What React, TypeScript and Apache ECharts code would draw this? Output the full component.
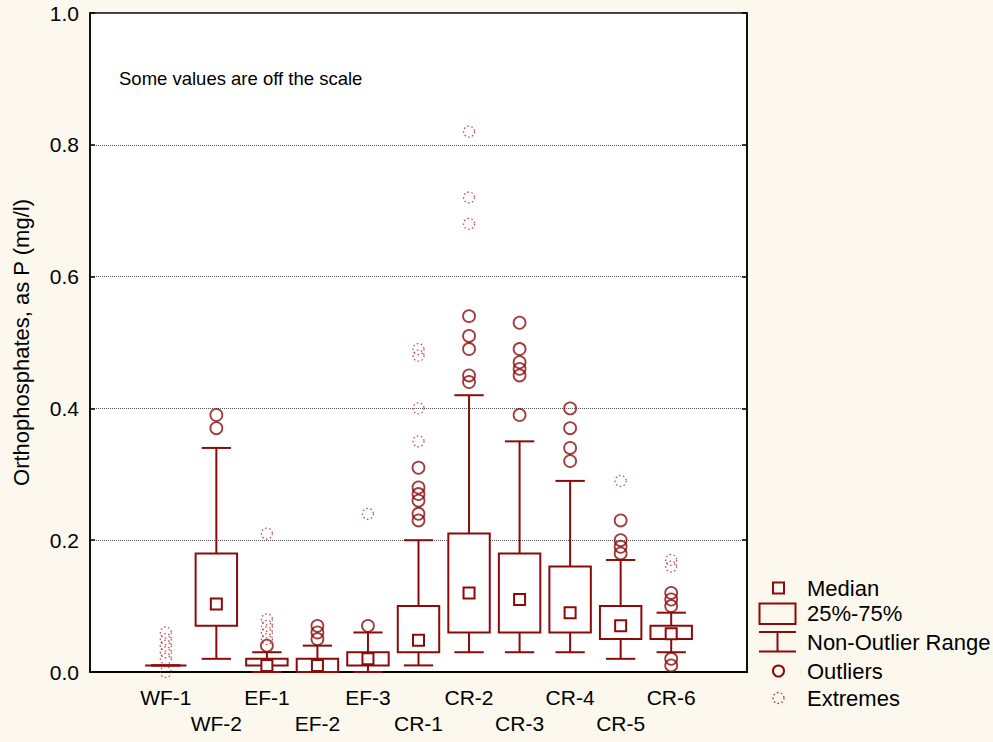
import React, { useEffect, useRef } from "react";
import * as echarts from "echarts";

const categories = ["WF-1", "WF-2", "EF-1", "EF-2", "EF-3", "CR-1", "CR-2", "CR-3", "CR-4", "CR-5", "CR-6"];
const whiskerLow = [0.01, 0.02, 0.0, 0.0, 0.0, 0.01, 0.03, 0.03, 0.03, 0.02, 0.03];
const q1Values = [0.01, 0.07, 0.01, 0.0, 0.01, 0.03, 0.06, 0.06, 0.06, 0.05, 0.05];
const medianValues = [0.01, 0.103, 0.01, 0.01, 0.02, 0.048, 0.12, 0.11, 0.09, 0.07, 0.058];
const q3Values = [0.01, 0.18, 0.02, 0.02, 0.03, 0.10, 0.21, 0.18, 0.16, 0.10, 0.07];
const whiskerHigh = [0.01, 0.34, 0.03, 0.04, 0.06, 0.20, 0.42, 0.35, 0.29, 0.17, 0.09];
const outlierValues = [
  [],
  [0.39, 0.37],
  [0.04],
  [0.07, 0.06, 0.05],
  [0.07],
  [0.31, 0.28, 0.27, 0.26, 0.24, 0.23],
  [0.54, 0.51, 0.49, 0.45, 0.44],
  [0.53, 0.49, 0.47, 0.46, 0.45, 0.39],
  [0.40, 0.37, 0.34, 0.32],
  [0.23, 0.20, 0.19, 0.18],
  [0.12, 0.11, 0.10, 0.02, 0.01],
];
const extremeValues = [
  [0.06, 0.05, 0.04, 0.03, 0.02, 0.0],
  [],
  [0.21, 0.08, 0.07, 0.06, 0.05],
  [],
  [0.24],
  [0.49, 0.48, 0.40, 0.35],
  [0.82, 0.72, 0.68],
  [],
  [],
  [0.29],
  [0.17, 0.16],
];
const yTicks = [0, 0.2, 0.4, 0.6, 0.8, 1.0];
const legendLabels = ["Median", "25%-75%", "Non-Outlier Range", "Outliers", "Extremes"];
const noteText = "Some values are off the scale";
const yTitle = "Orthophosphates, as P (mg/l)";

const RED = "#8B0A0A";
const EXT = "#a82424";
const FONT = "'Liberation Sans', Arial, Helvetica, sans-serif";
const BG = "#fdf8ed";

export default function App() {
  const ref = useRef<HTMLDivElement>(null);
  useEffect(() => {
    if (!ref.current) return;
    const chart = echarts.init(ref.current, null, { renderer: "svg" });
    const axisCats = ["", ...categories, ""];
    const boxData = categories.map((_, i) => [
      i + 1,
      whiskerLow[i],
      q1Values[i],
      medianValues[i],
      q3Values[i],
      whiskerHigh[i],
    ]);
    const outData: number[][] = [];
    outlierValues.forEach((arr, i) => arr.forEach((v) => outData.push([i + 1, v])));
    const extData: number[][] = [];
    extremeValues.forEach((arr, i) => arr.forEach((v) => extData.push([i + 1, v])));

    const tickStyle = { color: "#000", width: 1.5 };
    const legY = [588, 613.5, 642, 671, 698];

    chart.setOption({
      animation: false,
      backgroundColor: BG,
      grid: {
        left: 90,
        right: 246,
        top: 13,
        bottom: 70,
        show: true,
        backgroundColor: "#fff",
        borderColor: "#000",
        borderWidth: 1.5,
      },
      xAxis: [
        {
          type: "category",
          data: axisCats,
          position: "bottom",
          boundaryGap: true,
          axisLine: { lineStyle: { color: "#000", width: 1.5 } },
          axisTick: { alignWithLabel: true, interval: 0, inside: true, length: 5, lineStyle: tickStyle },
          axisLabel: {
            interval: 0,
            color: "#000",
            fontSize: 21,
            fontFamily: FONT,
            lineHeight: 26,
            margin: 12,
            formatter: (v: string, i: number) => (v === "" ? "" : i % 2 === 1 ? v : "\n" + v),
          },
          splitLine: { show: false },
        },
        {
          type: "category",
          data: axisCats,
          position: "top",
          boundaryGap: true,
          axisLine: { lineStyle: { color: "#000", width: 1.5 } },
          axisTick: { alignWithLabel: true, interval: 0, inside: true, length: 5, lineStyle: tickStyle },
          axisLabel: { show: false },
          splitLine: { show: false },
        },
      ],
      yAxis: [
        {
          type: "value",
          min: 0,
          max: 1,
          interval: 0.2,
          position: "left",
          name: yTitle,
          nameLocation: "middle",
          nameGap: 58,
          nameTextStyle: { fontSize: 22, fontFamily: FONT, color: "#000" },
          axisLine: { show: true, lineStyle: { color: "#000", width: 1.5 } },
          axisTick: { show: true, inside: true, length: 5, lineStyle: tickStyle },
          axisLabel: {
            color: "#000",
            fontSize: 21,
            fontFamily: FONT,
            margin: 11,
            formatter: (v: number) => (yTicks.some((t) => Math.abs(t - v) < 1e-9) ? v.toFixed(1) : ""),
          },
          splitLine: { show: true, lineStyle: { color: "#555", width: 1, type: [1, 1] } },
        },
        {
          type: "value",
          min: 0,
          max: 1,
          interval: 0.2,
          position: "right",
          axisLine: { show: true, lineStyle: { color: "#000", width: 1.5 } },
          axisTick: { show: true, inside: true, length: 5, lineStyle: tickStyle },
          axisLabel: { show: false },
          splitLine: { show: false },
        },
      ],
      series: [
        {
          type: "custom",
          xAxisIndex: 0,
          yAxisIndex: 0,
          data: boxData,
          encode: { x: 0, y: [1, 2, 3, 4, 5] },
          z: 2,
          renderItem: (params: any, api: any) => {
            const x = api.value(0);
            const lo = api.coord([x, api.value(1)]);
            const q1 = api.coord([x, api.value(2)]);
            const md = api.coord([x, api.value(3)]);
            const q3 = api.coord([x, api.value(4)]);
            const hi = api.coord([x, api.value(5)]);
            const band = api.size([1, 0])[0];
            const bw = band * 0.82;
            const cw = band * 0.58;
            const ms = 11;
            const cx = lo[0];
            const ls = { stroke: RED, lineWidth: 2, fill: null };
            const children: any[] = [
              { type: "line", shape: { x1: cx, y1: hi[1], x2: cx, y2: q3[1] }, style: ls },
              { type: "line", shape: { x1: cx, y1: q1[1], x2: cx, y2: lo[1] }, style: ls },
              { type: "line", shape: { x1: cx - cw / 2, y1: hi[1], x2: cx + cw / 2, y2: hi[1] }, style: ls },
              { type: "line", shape: { x1: cx - cw / 2, y1: lo[1], x2: cx + cw / 2, y2: lo[1] }, style: ls },
              {
                type: "rect",
                shape: { x: cx - bw / 2, y: q3[1], width: bw, height: q1[1] - q3[1] },
                style: { stroke: RED, lineWidth: 2, fill: "#fff" },
              },
            ];
            if (q1[1] - q3[1] > 0.5) {
              children.push({
                type: "rect",
                shape: { x: md[0] - ms / 2, y: md[1] - ms / 2, width: ms, height: ms },
                style: { stroke: RED, lineWidth: 2, fill: "#fff" },
              });
            }
            return { type: "group", children };
          },
        },
        {
          type: "scatter",
          data: outData,
          symbol: "circle",
          symbolSize: 12,
          z: 3,
          itemStyle: { color: "rgba(0,0,0,0)", borderColor: RED, borderWidth: 1.8 },
        },
        {
          type: "scatter",
          data: extData,
          symbol: "circle",
          symbolSize: 11,
          z: 3,
          itemStyle: { color: "rgba(0,0,0,0)", borderColor: EXT, borderWidth: 1.3, borderType: [1.5, 2.5] },
        },
      ],
      graphic: [
        {
          type: "text",
          left: 119,
          top: 69,
          style: { text: noteText, fontSize: 18.5, fontFamily: FONT, fill: "#000" },
        },
        {
          type: "rect",
          shape: { x: 773, y: legY[0] - 5.5, width: 11, height: 11 },
          style: { stroke: RED, lineWidth: 2, fill: "none" },
        },
        {
          type: "rect",
          shape: { x: 759.5, y: 603.5, width: 36, height: 20.5 },
          style: { stroke: RED, lineWidth: 2, fill: "none" },
        },
        { type: "line", shape: { x1: 759, y1: 632, x2: 796, y2: 632 }, style: { stroke: RED, lineWidth: 2 } },
        { type: "line", shape: { x1: 759, y1: 651.5, x2: 796, y2: 651.5 }, style: { stroke: RED, lineWidth: 2 } },
        { type: "line", shape: { x1: 777.5, y1: 632, x2: 777.5, y2: 651.5 }, style: { stroke: RED, lineWidth: 2 } },
        { type: "circle", shape: { cx: 778.5, cy: legY[3], r: 5.5 }, style: { stroke: RED, lineWidth: 2, fill: "none" } },
        {
          type: "circle",
          shape: { cx: 778.5, cy: legY[4], r: 5.5 },
          style: { stroke: EXT, lineWidth: 1.3, fill: "none", lineDash: [1.5, 2.5] },
        },
        ...legendLabels.map((t, i) => ({
          type: "text",
          x: 807,
          y: legY[i],
          style: { text: t, fontSize: 22, fontFamily: FONT, fill: "#000", verticalAlign: "middle", align: "left" },
        })),
      ],
    });
    return () => chart.dispose();
  }, []);
  return (
    <div
      ref={ref}
      style={{ position: "fixed", left: 0, top: 0, width: 993, height: 742 }}
    />
  );
}
